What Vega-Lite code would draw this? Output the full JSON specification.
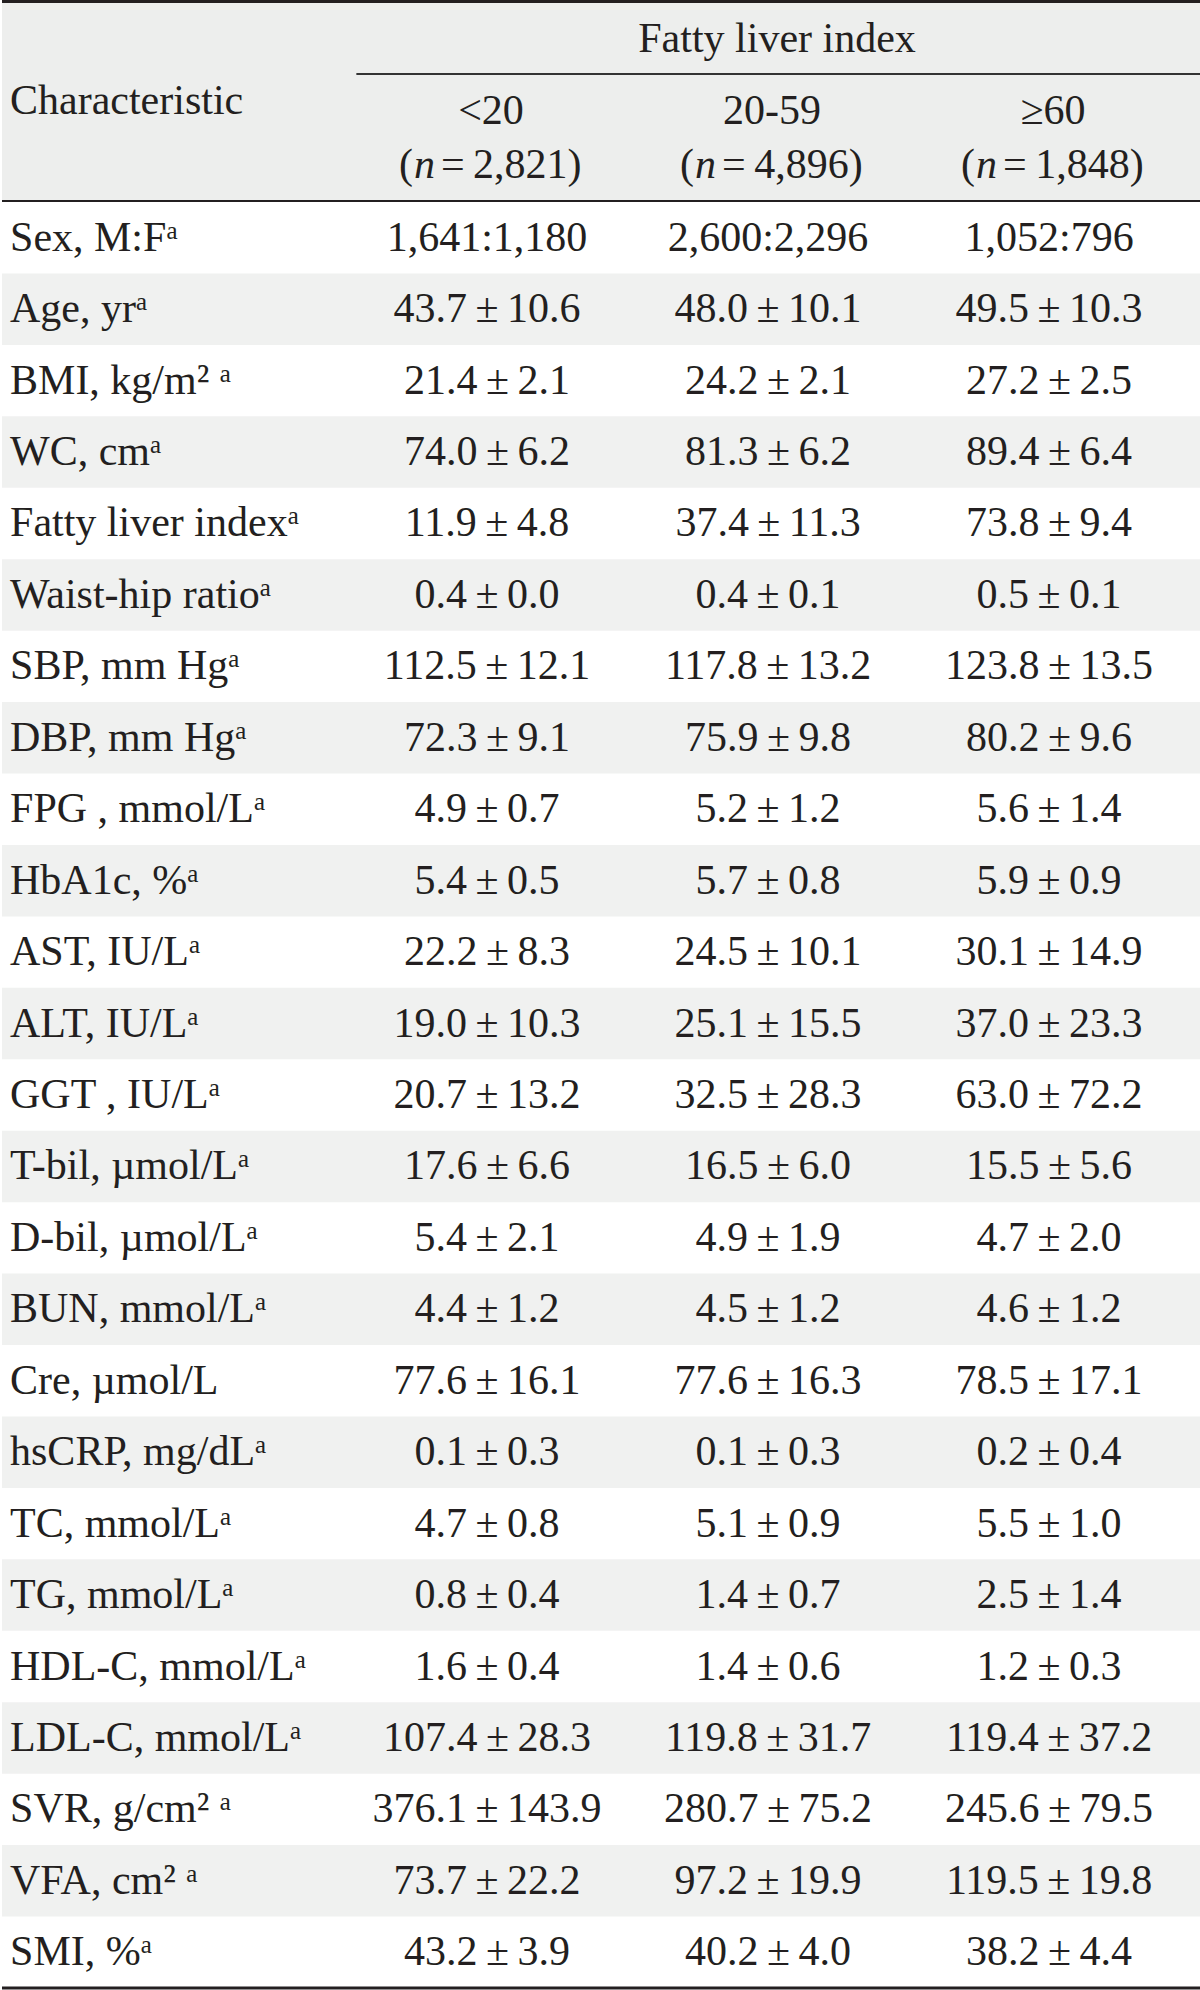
{
  "$schema": "https://vega.github.io/schema/vega-lite/v6.json",
  "padding": 0,
  "background": "white",
  "spacing": 0,
  "config": {
    "view": {"stroke": null},
    "text": {"font": "Liberation Serif", "fontSize": 42, "color": "#231f20"},
    "concat": {"spacing": 0}
  },
  "datasets": {
    "groups": [
      {"group": "<20", "n": "2,821"},
      {"group": "20-59", "n": "4,896"},
      {"group": "≥60", "n": "1,848"}
    ],
    "table": [
      {"characteristic": "Sex, M:Fᵃ", "<20": "1,641:1,180", "20-59": "2,600:2,296", "≥60": "1,052:796"},
      {"characteristic": "Age, yrᵃ", "<20": "43.7\u2009±\u200910.6", "20-59": "48.0\u2009±\u200910.1", "≥60": "49.5\u2009±\u200910.3"},
      {"characteristic": "BMI, kg/m² ᵃ", "<20": "21.4\u2009±\u20092.1", "20-59": "24.2\u2009±\u20092.1", "≥60": "27.2\u2009±\u20092.5"},
      {"characteristic": "WC, cmᵃ", "<20": "74.0\u2009±\u20096.2", "20-59": "81.3\u2009±\u20096.2", "≥60": "89.4\u2009±\u20096.4"},
      {"characteristic": "Fatty liver indexᵃ", "<20": "11.9\u2009±\u20094.8", "20-59": "37.4\u2009±\u200911.3", "≥60": "73.8\u2009±\u20099.4"},
      {"characteristic": "Waist-hip ratioᵃ", "<20": "0.4\u2009±\u20090.0", "20-59": "0.4\u2009±\u20090.1", "≥60": "0.5\u2009±\u20090.1"},
      {"characteristic": "SBP, mm Hgᵃ", "<20": "112.5\u2009±\u200912.1", "20-59": "117.8\u2009±\u200913.2", "≥60": "123.8\u2009±\u200913.5"},
      {"characteristic": "DBP, mm Hgᵃ", "<20": "72.3\u2009±\u20099.1", "20-59": "75.9\u2009±\u20099.8", "≥60": "80.2\u2009±\u20099.6"},
      {"characteristic": "FPG , mmol/Lᵃ", "<20": "4.9\u2009±\u20090.7", "20-59": "5.2\u2009±\u20091.2", "≥60": "5.6\u2009±\u20091.4"},
      {"characteristic": "HbA1c, %ᵃ", "<20": "5.4\u2009±\u20090.5", "20-59": "5.7\u2009±\u20090.8", "≥60": "5.9\u2009±\u20090.9"},
      {"characteristic": "AST, IU/Lᵃ", "<20": "22.2\u2009±\u20098.3", "20-59": "24.5\u2009±\u200910.1", "≥60": "30.1\u2009±\u200914.9"},
      {"characteristic": "ALT, IU/Lᵃ", "<20": "19.0\u2009±\u200910.3", "20-59": "25.1\u2009±\u200915.5", "≥60": "37.0\u2009±\u200923.3"},
      {"characteristic": "GGT , IU/Lᵃ", "<20": "20.7\u2009±\u200913.2", "20-59": "32.5\u2009±\u200928.3", "≥60": "63.0\u2009±\u200972.2"},
      {"characteristic": "T-bil, µmol/Lᵃ", "<20": "17.6\u2009±\u20096.6", "20-59": "16.5\u2009±\u20096.0", "≥60": "15.5\u2009±\u20095.6"},
      {"characteristic": "D-bil, µmol/Lᵃ", "<20": "5.4\u2009±\u20092.1", "20-59": "4.9\u2009±\u20091.9", "≥60": "4.7\u2009±\u20092.0"},
      {"characteristic": "BUN, mmol/Lᵃ", "<20": "4.4\u2009±\u20091.2", "20-59": "4.5\u2009±\u20091.2", "≥60": "4.6\u2009±\u20091.2"},
      {"characteristic": "Cre, µmol/L", "<20": "77.6\u2009±\u200916.1", "20-59": "77.6\u2009±\u200916.3", "≥60": "78.5\u2009±\u200917.1"},
      {"characteristic": "hsCRP, mg/dLᵃ", "<20": "0.1\u2009±\u20090.3", "20-59": "0.1\u2009±\u20090.3", "≥60": "0.2\u2009±\u20090.4"},
      {"characteristic": "TC, mmol/Lᵃ", "<20": "4.7\u2009±\u20090.8", "20-59": "5.1\u2009±\u20090.9", "≥60": "5.5\u2009±\u20091.0"},
      {"characteristic": "TG, mmol/Lᵃ", "<20": "0.8\u2009±\u20090.4", "20-59": "1.4\u2009±\u20090.7", "≥60": "2.5\u2009±\u20091.4"},
      {"characteristic": "HDL-C, mmol/Lᵃ", "<20": "1.6\u2009±\u20090.4", "20-59": "1.4\u2009±\u20090.6", "≥60": "1.2\u2009±\u20090.3"},
      {"characteristic": "LDL-C, mmol/Lᵃ", "<20": "107.4\u2009±\u200928.3", "20-59": "119.8\u2009±\u200931.7", "≥60": "119.4\u2009±\u200937.2"},
      {"characteristic": "SVR, g/cm² ᵃ", "<20": "376.1\u2009±\u2009143.9", "20-59": "280.7\u2009±\u200975.2", "≥60": "245.6\u2009±\u200979.5"},
      {"characteristic": "VFA, cm² ᵃ", "<20": "73.7\u2009±\u200922.2", "20-59": "97.2\u2009±\u200919.9", "≥60": "119.5\u2009±\u200919.8"},
      {"characteristic": "SMI, %ᵃ", "<20": "43.2\u2009±\u20093.9", "20-59": "40.2\u2009±\u20094.0", "≥60": "38.2\u2009±\u20094.4"}
    ]
  },
  "resolve": {"scale": {"x": "independent", "y": "independent"}},
  "vconcat": [
    {
      "width": 1200,
      "height": 201,
      "view": {"fill": "#edeeed", "stroke": null},
      "layer": [
        {
          "data": {"values": [{}]},
          "mark": {"type": "rule", "stroke": "#231f20", "strokeWidth": 3, "yOffset": 1.5},
          "encoding": {
            "y": {"datum": "fli", "type": "nominal", "bandPosition": 0,
                  "scale": {"type": "band", "domain": ["fli", "cut", "n"], "paddingInner": 0, "paddingOuter": 0}, "axis": null}
          }
        },
        {
          "data": {"values": [{}]},
          "mark": {"type": "rule", "stroke": "#333333", "strokeWidth": 2, "yOffset": 7},
          "encoding": {
            "y": {"datum": "fli", "type": "nominal", "bandPosition": 1, "axis": null},
            "x": {"datum": "<20", "type": "nominal", "bandPosition": 0.035,
                  "scale": {"type": "band", "domain": ["Characteristic", "<20", "20-59", "≥60"], "paddingInner": 0, "paddingOuter": 0.1352, "align": 0.836}, "axis": null},
            "x2": {"value": "width"}
          }
        },
        {
          "data": {"values": [{}]},
          "mark": {"type": "rule", "stroke": "#231f20", "strokeWidth": 2},
          "encoding": {
            "y": {"datum": "n", "type": "nominal", "bandPosition": 1, "axis": null}
          }
        },
        {
          "data": {"values": [{}]},
          "mark": {"type": "text", "align": "left", "baseline": "middle", "dx": -55.5},
          "encoding": {
            "x": {"datum": "Characteristic", "type": "nominal", "bandPosition": 0, "axis": null},
            "y": {"datum": "cut", "type": "nominal", "axis": null},
            "text": {"value": "Characteristic"}
          }
        },
        {
          "data": {"values": [{}]},
          "mark": {"type": "text", "align": "center", "baseline": "middle", "dy": 5, "dx": 9},
          "encoding": {
            "x": {"datum": "20-59", "type": "nominal", "axis": null},
            "y": {"datum": "fli", "type": "nominal", "axis": null},
            "text": {"value": "Fatty liver index"}
          }
        },
        {
          "data": {"name": "groups"},
          "mark": {"type": "text", "align": "center", "baseline": "middle", "dy": 10.5, "dx": 4},
          "encoding": {
            "x": {"field": "group", "type": "nominal", "axis": null},
            "y": {"datum": "cut", "type": "nominal", "axis": null},
            "text": {"field": "group"}
          }
        },
        {
          "data": {"name": "groups"},
          "mark": {"type": "text", "align": "right", "baseline": "middle", "dy": -2.5, "dx": -74},
          "encoding": {
            "x": {"field": "group", "type": "nominal", "axis": null},
            "y": {"datum": "n", "type": "nominal", "axis": null},
            "text": {"value": "("}
          }
        },
        {
          "data": {"name": "groups"},
          "mark": {"type": "text", "align": "left", "baseline": "middle", "dy": -2.5, "dx": -73, "fontStyle": "italic"},
          "encoding": {
            "x": {"field": "group", "type": "nominal", "axis": null},
            "y": {"datum": "n", "type": "nominal", "axis": null},
            "text": {"value": "n"}
          }
        },
        {
          "data": {"name": "groups"},
          "transform": [{"calculate": "'=\u2009' + datum.n + ')'", "as": "rest"}],
          "mark": {"type": "text", "align": "left", "baseline": "middle", "dy": -2.5, "dx": -46},
          "encoding": {
            "x": {"field": "group", "type": "nominal", "axis": null},
            "y": {"datum": "n", "type": "nominal", "axis": null},
            "text": {"field": "rest"}
          }
        }
      ]
    },
    {
      "width": 1200,
      "height": 1786,
      "data": {"name": "table"},
      "layer": [
        {
          "transform": [
            {"window": [{"op": "row_number", "as": "rn"}]},
            {"filter": "datum.rn % 2 == 0"}
          ],
          "mark": {"type": "rect", "fill": "#f0f1f0"},
          "encoding": {
            "y": {"field": "characteristic", "type": "nominal", "sort": null, "axis": null,
                  "scale": {"type": "band", "paddingInner": 0, "paddingOuter": 0,
                            "domain": ["Sex, M:Fᵃ", "Age, yrᵃ", "BMI, kg/m² ᵃ", "WC, cmᵃ", "Fatty liver indexᵃ", "Waist-hip ratioᵃ", "SBP, mm Hgᵃ", "DBP, mm Hgᵃ", "FPG , mmol/Lᵃ", "HbA1c, %ᵃ", "AST, IU/Lᵃ", "ALT, IU/Lᵃ", "GGT , IU/Lᵃ", "T-bil, µmol/Lᵃ", "D-bil, µmol/Lᵃ", "BUN, mmol/Lᵃ", "Cre, µmol/L", "hsCRP, mg/dLᵃ", "TC, mmol/Lᵃ", "TG, mmol/Lᵃ", "HDL-C, mmol/Lᵃ", "LDL-C, mmol/Lᵃ", "SVR, g/cm² ᵃ", "VFA, cm² ᵃ", "SMI, %ᵃ"]}}
          }
        },
        {
          "mark": {"type": "text", "align": "left", "baseline": "middle", "dx": -55.5},
          "encoding": {
            "x": {"datum": "Characteristic", "type": "nominal", "bandPosition": 0, "axis": null,
                  "scale": {"type": "band", "domain": ["Characteristic", "<20", "20-59", "≥60"], "paddingInner": 0, "paddingOuter": 0.1352, "align": 0.836}},
            "y": {"field": "characteristic", "type": "nominal", "sort": null, "axis": null},
            "text": {"field": "characteristic"}
          }
        },
        {
          "transform": [
            {"fold": ["<20", "20-59", "≥60"], "as": ["group", "value"]}
          ],
          "mark": {"type": "text", "align": "center", "baseline": "middle"},
          "encoding": {
            "x": {"field": "group", "type": "nominal", "axis": null},
            "y": {"field": "characteristic", "type": "nominal", "sort": null, "axis": null},
            "text": {"field": "value"}
          }
        },
        {
          "data": {"values": [{}]},
          "mark": {"type": "rule", "stroke": "#231f20", "strokeWidth": 3},
          "encoding": {
            "y": {"datum": "SMI, %ᵃ", "type": "nominal", "bandPosition": 1, "axis": null}
          }
        }
      ]
    }
  ]
}
